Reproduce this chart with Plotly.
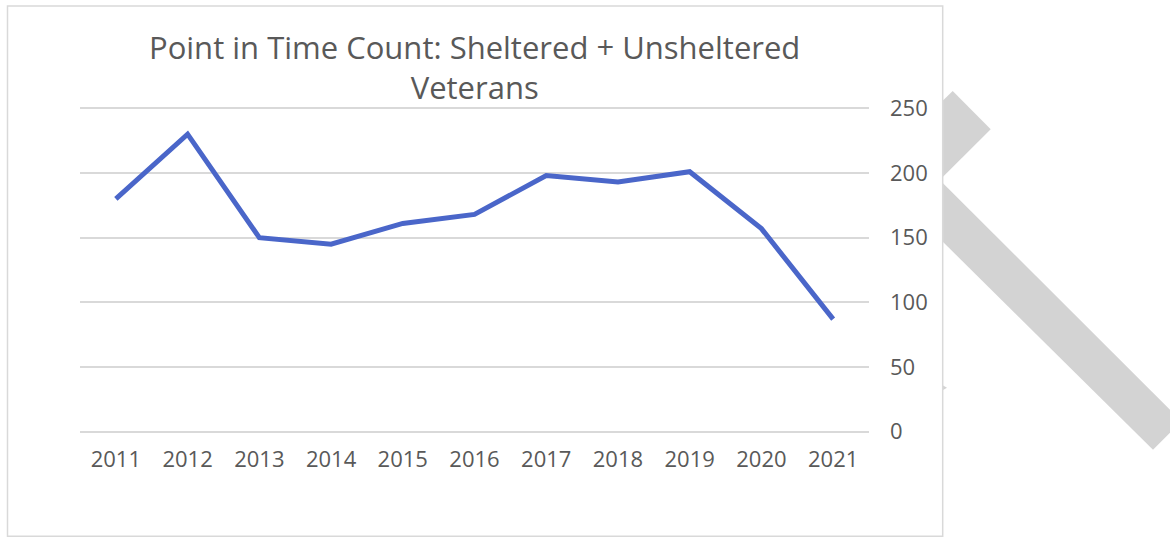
import plotly.graph_objects as go

years = ["2011", "2012", "2013", "2014", "2015", "2016", "2017", "2018", "2019", "2020", "2021"]
veterans = [180, 230, 150, 145, 161, 168, 198, 193, 201, 157, 87]
y_ticks = [0, 50, 100, 150, 200, 250]
title_text = "Point in Time Count: Sheltered + Unsheltered<br>Veterans"

W, H = 1170, 538
PAD = 1.0                      # y-range padding (data units) so edge gridlines show
SCALE = (432 - 108) / 250      # px per data unit
L, R = 80, 869
T, B = 108 - PAD * SCALE, 432 + PAD * SCALE  # plot area pixel bounds


def px(x):
    return (x - L) / (R - L)


def py(y):
    return (B - y) / (B - T)


def path(points):
    return "M " + " L ".join(f"{px(a):.5f},{py(b):.5f}" for a, b in points) + " Z"


GRAY_TXT = "#595959"
FONT = "Open Sans"

fig = go.Figure()
fig.add_trace(go.Scatter(
    x=years, y=veterans, mode="lines",
    line=dict(color="#4a66c9", width=5),
    hoverinfo="x+y", showlegend=False,
))

shapes = [
    # decorative gray bands behind the chart box
    dict(type="path", xref="paper", yref="paper", layer="below",
         path=path([(935, 108), (952.7, 90.7), (990.7, 129), (935, 184.7)]),
         fillcolor="#d3d3d3", line=dict(width=0)),
    dict(type="path", xref="paper", yref="paper", layer="below",
         path=path([(935, 175), (1181.5, 421.5), (1153, 450), (935, 234)]),
         fillcolor="#d3d3d3", line=dict(width=0)),
    dict(type="path", xref="paper", yref="paper", layer="below",
         path=path([(940, 384), (947, 388), (940, 392)]),
         fillcolor="#d3d3d3", line=dict(width=0)),
    # chart box
    dict(type="rect", xref="paper", yref="paper", layer="below",
         x0=px(7.5), x1=px(942.7), y0=py(536.7), y1=py(5.5),
         fillcolor="white", line=dict(color="#d9d9d9", width=1.5)),
]

fig.update_layout(
    width=W, height=H,
    margin=dict(l=L, r=W - R, t=T, b=H - B, pad=0),
    paper_bgcolor="white",
    plot_bgcolor="rgba(0,0,0,0)",
    font=dict(family=FONT, color=GRAY_TXT, size=22),
    shapes=shapes,
    annotations=[dict(
        text=title_text, xref="paper", yref="paper",
        x=0.5, y=py(67), xanchor="center", yanchor="middle",
        showarrow=False, font=dict(family=FONT, size=31, color=GRAY_TXT),
    )],
    xaxis=dict(
        type="category", range=[-0.5, len(years) - 0.5],
        showgrid=False, zeroline=False, showline=False,
        ticks="", tickfont=dict(size=22, color=GRAY_TXT),
        ticklabelstandoff=11,
    ),
    yaxis=dict(
        side="right", range=[-PAD, 250 + PAD], tickvals=y_ticks,
        showgrid=True, gridcolor="#d9d9d9", gridwidth=1.5,
        zeroline=True, zerolinecolor="#d9d9d9", zerolinewidth=1.5,
        showline=False, ticks="",
        tickfont=dict(size=22, color=GRAY_TXT),
        ticklabelstandoff=20,
    ),
)

fig.write_html("out.html", config={"displayModeBar": False},
               post_script="document.body.style.margin='0';")
